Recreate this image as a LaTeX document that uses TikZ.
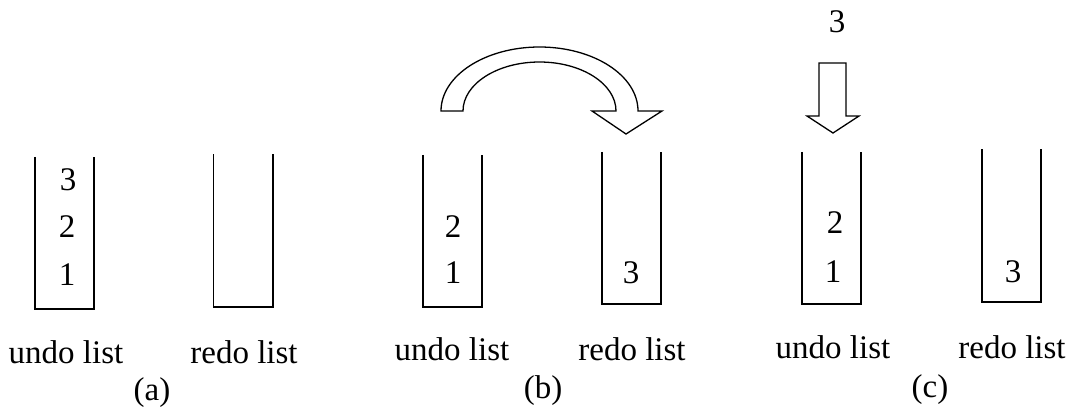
\documentclass[tikz,border=0pt]{standalone}
\usepackage{fontspec}
\setmainfont{Liberation Serif}
\begin{document}
\begin{tikzpicture}[x=1pt,y=-1pt,
  stack/.style={rectangle,minimum width=59pt,minimum height=152pt,inner sep=0pt},
  wall/.style={line width=1.6pt},
  item/.style={font=\fontsize{33}{38}\selectfont,anchor=base,inner sep=0pt},
  caption/.style={font=\fontsize{33}{38}\selectfont,anchor=base,inner sep=0pt},
  block/.style={draw,line width=1.3pt,line join=miter,fill=white}]
\useasboundingbox (0,0) rectangle (1070,415);

% ---- stacks (open at the top) ----
\node[stack] (ua) at (64.5,233) {};
\node[stack] (ra) at (243,230.5) {};
\node[stack] (ub) at (452.5,231) {};
\node[stack] (rb) at (631.5,228) {};
\node[stack] (uc) at (831.5,228) {};
\node[stack] (rc) at (1011.5,225.5) {};
\foreach \s in {ua,ra,ub,rb,uc,rc}
  \draw[wall] (\s.north west) -- (\s.south west) -- (\s.south east) -- (\s.north east);

% ---- stack contents ----
\node[item] (ua3) at (68,190) {3};
\node[item] (ua2) at (67,237) {2};
\node[item] (ua1) at (67,285) {1};
\node[item] (ub2) at (453,237) {2};
\node[item] (ub1) at (453,283) {1};
\node[item] (rb3) at (631,283) {3};
\node[item] (uc2) at (835,233) {2};
\node[item] (uc1) at (833,282) {1};
\node[item] (rc3) at (1013,282) {3};
\node[item] (new3) at (837,32) {3};

% ---- captions ----
\node[caption] (lua) at (66,363) {undo list};
\node[caption] (lra) at (244,363) {redo list};
\node[caption] (ta)  at (152,400) {(a)};
\node[caption] (lub) at (452,360) {undo list};
\node[caption] (lrb) at (632,360) {redo list};
\node[caption] (tb)  at (543,398) {(b)};
\node[caption] (luc) at (833,358) {undo list};
\node[caption] (lrc) at (1012,358) {redo list};
\node[caption] (tc)  at (930,397) {(c)};

% ---- curved block arrow: undo -> redo ----
\draw[block]
  (463,111) -- (441,111)
  .. controls (441,75.65) and (485.1,47) .. (539.5,47)
  .. controls (593.9,47) and (638,75.65) .. (638,111)
  -- (662,111) -- (626,134) -- (592,111) -- (616,111)
  .. controls (616,83.94) and (581.75,62) .. (539.5,62)
  .. controls (497.25,62) and (463,83.94) .. (463,111) -- cycle;

% ---- straight block arrow: new item pushed on undo list ----
\draw[block]
  (819,63) -- (846,63) -- (846,116) -- (859,116) -- (833,133)
  -- (807,116) -- (819,116) -- cycle;
\end{tikzpicture}
\end{document}
